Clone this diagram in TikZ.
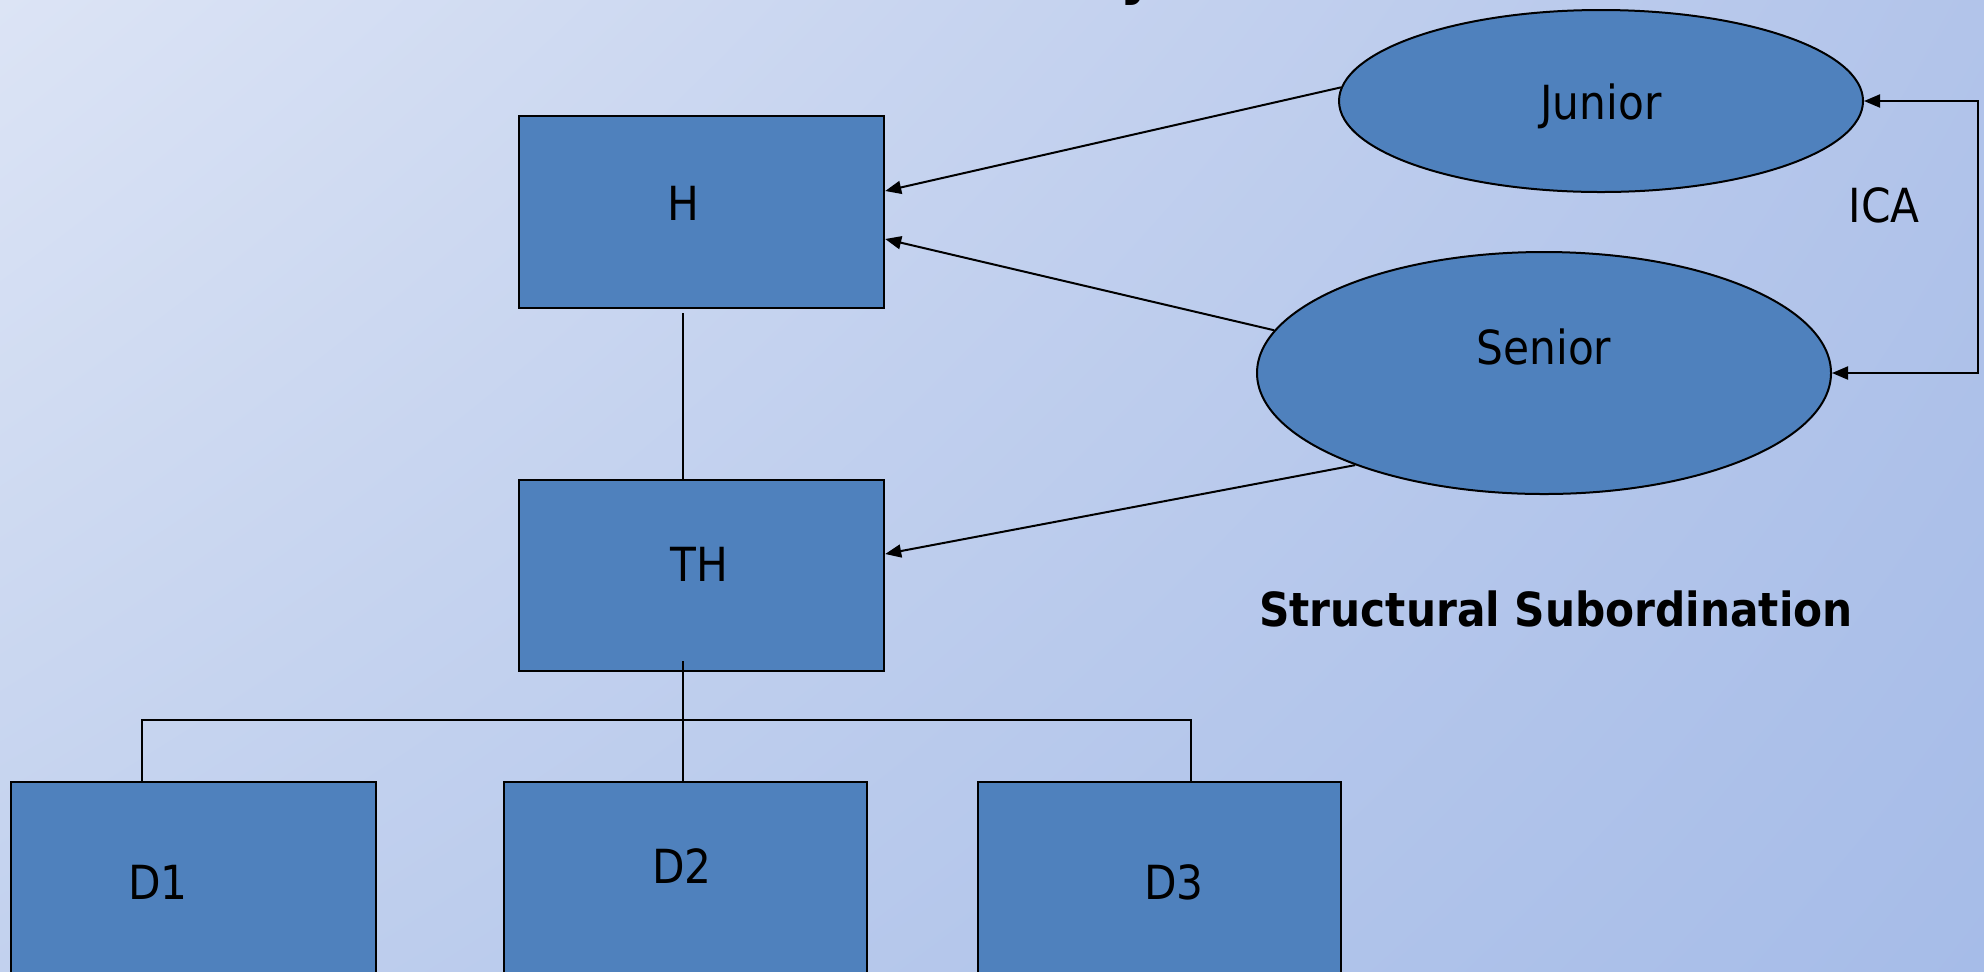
\documentclass[tikz,border=0pt]{standalone}
\usepackage{fontspec}
\IfFontExistsTF{DejaVu Sans Condensed}{\setmainfont{DejaVu Sans Condensed}}{\setmainfont{DejaVu Sans}[FakeStretch=0.9]}
\usetikzlibrary{arrows.meta,calc,shapes.geometric,shadings}
\definecolor{bgtl}{HTML}{DCE4F5}
\definecolor{bgtr}{HTML}{B2C4EA}
\definecolor{bgbl}{HTML}{C2D1EE}
\definecolor{bgbr}{HTML}{A6BCE8}
\definecolor{boxblue}{HTML}{4F81BD}
\begin{document}
\begin{tikzpicture}[x=0.5pt,y=-0.5pt,
  box/.style={draw=black,line width=1.2pt,fill=boxblue,rectangle,inner sep=0pt},
  oval/.style={draw=black,line width=1pt,fill=boxblue,ellipse,inner sep=0pt},
  lbl/.style={font=\fontsize{23.5}{28}\selectfont,inner sep=0pt,text height=17.2pt,text depth=0pt},
  conn/.style={line width=1pt,draw=black},
  arr/.style={conn,-{Triangle[length=8pt,width=6.5pt]}}]
\useasboundingbox (0,0) rectangle (1984,971);
\clip (0,0) rectangle (1984,971);
\shade[upper left=bgtl,upper right=bgtr,lower left=bgbl,lower right=bgbr] (0,0) rectangle (1984,971);
% clipped title fragment
\node[font=\bfseries\fontsize{30}{36}\selectfont,anchor=base,inner sep=0pt] (ttl) at (1138,-8) {y};
% boxes
\node[box,minimum width=182.5pt,minimum height=96pt] (H) at (701.5,212) {};
\node[box,minimum width=182.5pt,minimum height=95.5pt] (TH) at (701.5,575.5) {};
\node[box,minimum width=182.5pt,minimum height=109pt] (D1) at (193.5,891) {};
\node[box,minimum width=181.5pt,minimum height=109pt] (D2) at (685.5,891) {};
\node[box,minimum width=181.5pt,minimum height=109pt] (D3) at (1159.5,891) {};
\node[oval,minimum width=262pt,minimum height=91pt] (Jr) at (1601,101) {};
\node[oval,minimum width=287pt,minimum height=121pt] (Sr) at (1544,373) {};
% labels
\node[lbl] (Hl) at (683,203) {H};
\node[lbl] (THl) at (699,564) {TH};
\node[lbl] (D1l) at (158,882) {D1};
\node[lbl] (D2l) at (682,866) {D2};
\node[lbl] (D3l) at (1174,882) {D3};
\node[lbl] (Jrl) at (1601,102) {Junior};
\node[lbl] (Srl) at (1544,347) {Senior};
\node[lbl] (ICAl) at (1884,205) {ICA};
\node[lbl,font=\bfseries\fontsize{23.5}{28}\selectfont] (SS) at (1556,609) {Structural Subordination};
% connectors
\coordinate (lx) at (683,0);
\coordinate (b1) at (142,720);
\coordinate (b3) at (1191,720);
\coordinate (ica1) at (1978,101);
\coordinate (ica2) at (1978,373);
\draw[conn] ($(H.south -| lx)+(0,4)$) -- (TH.north -| lx);
\draw[conn] ($(TH.south -| lx)+(0,-11)$) -- (D2.north -| lx);
\draw[conn] (D1.north -| b1) -- (b1) -- (b3) -- (D3.north -| b3);
\draw[arr] (Jr.177) -- ($(H.east)+(0,-21)$);
\draw[arr] (Sr.171) -- ($(H.east)+(0,27)$);
\draw[arr] (Sr.206) -- ($(TH.east)+(0,-21.5)$);
\draw[conn,{Triangle[length=8pt,width=6.5pt]}-{Triangle[length=8pt,width=6.5pt]}] (Jr.east) -- (ica1) -- (ica2) -- (Sr.east);
\end{tikzpicture}
\end{document}
